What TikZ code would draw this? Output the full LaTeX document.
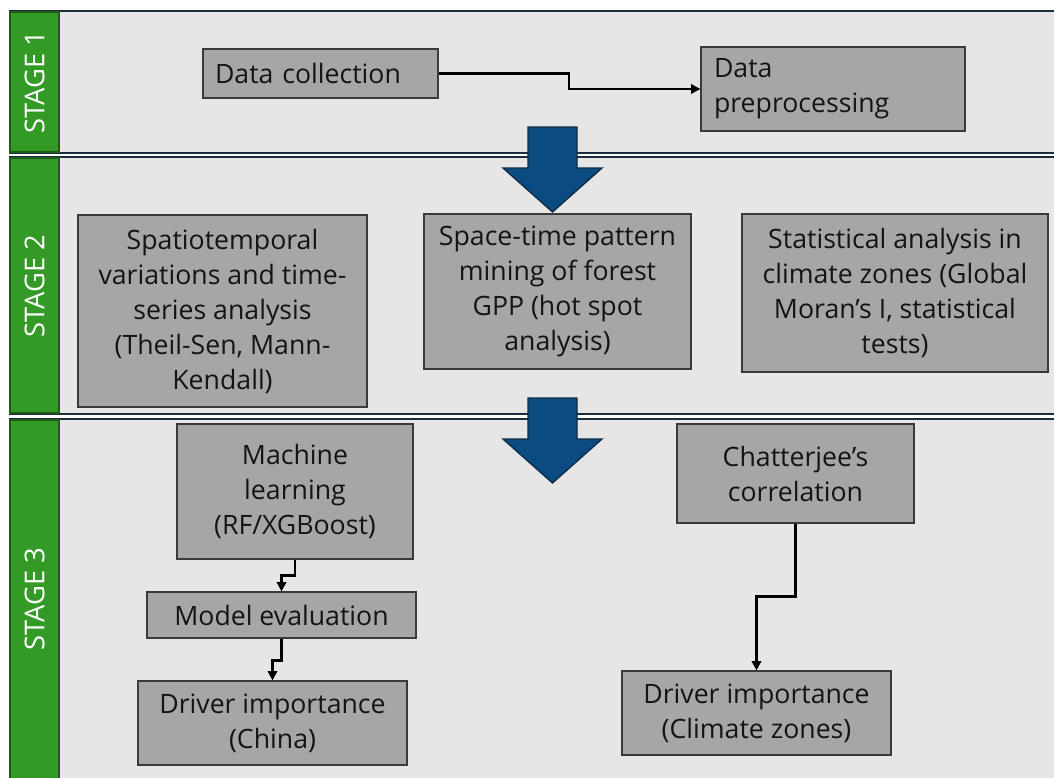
\documentclass[tikz,border=0pt]{standalone}
\usepackage{fontspec}
\setmainfont{Open Sans}
\usetikzlibrary{arrows.meta}
\definecolor{navy}{HTML}{1B2D3D}
\definecolor{panelgray}{HTML}{E6E6E6}
\definecolor{stagegreen}{HTML}{349A26}
\definecolor{darkgreen}{HTML}{1F5A17}
\definecolor{boxgray}{HTML}{A6A6A6}
\definecolor{boxedge}{HTML}{3A3A3A}
\definecolor{textdark}{HTML}{141414}
\definecolor{arrowblue}{HTML}{0B4B82}
\definecolor{arrowedge}{HTML}{0E2B45}
\begin{document}
\begin{tikzpicture}[x=0.75pt,y=-0.75pt,
  panel/.style={draw=navy, line width=1.5pt, fill=panelgray},
  stagecol/.style={draw=darkgreen, line width=1pt, fill=stagegreen},
  stagelabel/.style={text=white, font=\fontsize{20.5}{24}\selectfont, rotate=90, inner sep=0pt},
  box/.style={draw=boxedge, line width=0.9pt, fill=boxgray, text=textdark,
    font=\fontsize{20}{26.25}\selectfont, inner sep=0pt, align=center},
  leftbox/.style={box, align=left},
  conn/.style={draw=black, line width=1.8pt, -{Triangle[length=7pt,width=7pt]}},
  bigarrow/.style={fill=arrowblue, draw=arrowedge, line width=1pt}]

\useasboundingbox (0,0) rectangle (1054,778);
\clip (0,0) rectangle (1054,778);
\fill[white] (0,0) rectangle (1054,778);

% stage bands
\draw[panel] (10,11) rectangle (1070,153);
\draw[panel] (10,157) rectangle (1070,414);
\draw[panel] (10,419) rectangle (1070,800);

% green stage columns with labels
\draw[stagecol] (10,12) rectangle (59,152);
\draw[stagecol] (10,158) rectangle (59,413);
\draw[stagecol] (10,420) rectangle (59,790);
\node[stagelabel] (s1) at (34.5,82) {STAGE 1};
\node[stagelabel] (s2) at (34.5,286) {STAGE 2};
\node[stagelabel] (s3) at (34.5,599) {STAGE 3};

% stage 1
\node[leftbox, text width=158.25pt, inner xsep=9pt, minimum height=36.75pt] (dc) at (320.5,73.5) {Data collection};
\node[leftbox, text width=178.5pt, inner xsep=9.75pt, minimum height=63pt] (dp) at (833,89) {Data\\preprocessing};
\coordinate (j1) at (569,0);
\draw[conn] (dc.east) -- (dc.east -| j1) |- (dp.west);

% stage 2
\node[box, minimum width=216.75pt, minimum height=144pt] (st) at (222.5,311)
  {Spatiotemporal\\variations and time-\\series analysis\\(Theil-Sen, Mann-\\Kendall)};
\node[box, minimum width=200.25pt, minimum height=116.25pt] (hs) at (557.5,291.5)
  {Space-time pattern\\mining of forest\\GPP (hot spot\\analysis)};
\node[box, minimum width=229.5pt, minimum height=118.5pt] (sa) at (895,293)
  {Statistical analysis in\\climate zones (Global\\Moran’s I, statistical\\tests)};

% stage 3
\node[box, minimum width=177pt, minimum height=101.25pt] (ml) at (295,491.5)
  {Machine\\learning\\(RF/XGBoost)};
\node[box, minimum width=201.75pt, minimum height=34.5pt] (me) at (281.5,615)
  {Model evaluation};
\node[box, minimum width=201.75pt, minimum height=63pt] (dic) at (272.5,723)
  {Driver importance\\(China)};
\node[box, minimum width=177.75pt, minimum height=74.25pt] (cc) at (795.5,473.5)
  {Chatterjee’s\\correlation};
\node[box, minimum width=201.75pt, minimum height=63pt] (diz) at (756.5,713)
  {Driver importance\\(Climate zones)};

\draw[conn] (ml.south) -- ++(0,16) -| (me.north);
\draw[conn] (me.south) -- ++(0,22) -| (dic.north);
\draw[conn] (cc.south) -- ++(0,73) -| (diz.north);

% block arrows between stages
\draw[bigarrow] (528,127) -- (577,127) -- (577,168) -- (602,168) -- (552.5,212)
  -- (503,168) -- (528,168) -- cycle;
\draw[bigarrow] (528,398) -- (577,398) -- (577,439) -- (602,439) -- (552.5,483)
  -- (503,439) -- (528,439) -- cycle;
\end{tikzpicture}
\end{document}
